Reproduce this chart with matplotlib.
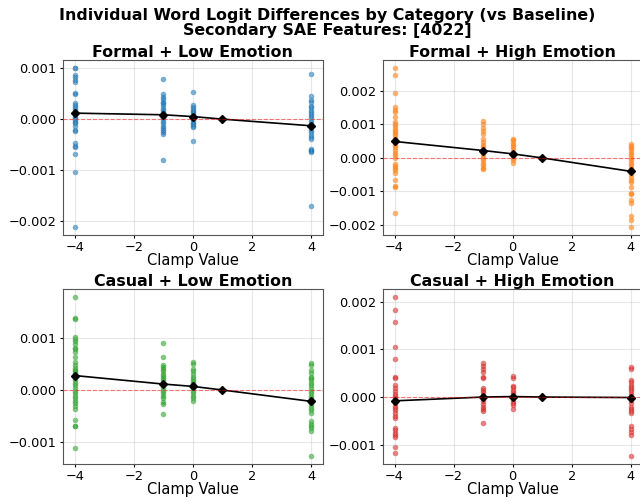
import numpy as np
import matplotlib
matplotlib.use("Agg")
import matplotlib.pyplot as plt

clamp_values = [-4, -1, 0, 1, 4]
scatter_clamps = [-4, -1, 0, 4]

titles = ["Formal + Low Emotion", "Formal + High Emotion",
          "Casual + Low Emotion", "Casual + High Emotion"]
colors = ["#1f77b4", "#ff7f0e", "#2ca02c", "#d62728"]

# per-word logit differences (x1e-3), one list per clamp value
formal_low = {
    -4: [0.995, 0.99, 0.87, 0.82, 0.77, 0.72, 0.52, 0.49, 0.31, 0.28, 0.23, 0.20, 0.15, 0.12,
         0.08, 0.05, 0.02, -0.01, -0.05, -0.08, -0.13, -0.22, -0.24, -0.47, -0.52, -0.55,
         -0.68, -1.03, -2.11],
    -1: [0.79, 0.49, 0.44, 0.40, 0.34, 0.31, 0.27, 0.21, 0.17, 0.13, 0.08, 0.05, 0.02, -0.03,
         -0.08, -0.13, -0.18, -0.22, -0.26, -0.30, -0.79],
    0: [0.53, 0.27, 0.23, 0.20, 0.16, 0.13, 0.10, 0.07, 0.03, 0.0, -0.03, -0.07, -0.10, -0.13,
        -0.16, -0.42],
    4: [0.88, 0.46, 0.38, 0.33, 0.26, 0.23, 0.18, 0.14, 0.10, 0.07, 0.02, -0.03, -0.07, -0.11,
        -0.16, -0.21, -0.26, -0.31, -0.35, -0.39, -0.58, -0.60, -0.63, -0.65, -1.69],
}
formal_high = {
    -4: [2.67, 2.47, 1.92, 1.51, 1.44, 1.38, 1.21, 1.06, 1.00, 0.94, 0.87, 0.80, 0.74, 0.67,
         0.60, 0.52, 0.44, 0.37, 0.31, 0.23, 0.15, 0.08, 0.01, -0.17, -0.24, -0.30, -0.36,
         -0.44, -0.66, -0.84, -0.88, -1.63],
    -1: [1.11, 1.01, 0.90, 0.80, 0.70, 0.57, 0.47, 0.37, 0.31, 0.23, 0.15, 0.08, 0.01, -0.07,
         -0.15, -0.22, -0.29, -0.33],
    0: [0.57, 0.52, 0.45, 0.37, 0.31, 0.23, 0.15, 0.08, 0.01, -0.07, -0.14],
    4: [0.42, 0.35, 0.30, 0.23, 0.16, 0.08, 0.01, -0.07, -0.15, -0.22, -0.29, -0.34, -0.41,
        -0.48, -0.56, -0.66, -0.73, -0.88, -1.03, -1.08, -1.25, -1.33, -1.74, -1.86, -2.06],
}
casual_low = {
    -4: [1.80, 1.40, 1.38, 1.03, 0.99, 0.95, 0.89, 0.82, 0.79, 0.74, 0.63, 0.55, 0.49, 0.42,
         0.39, 0.36, 0.33, 0.29, 0.26, 0.23, 0.19, 0.13, 0.09, 0.04, -0.01, -0.06, -0.11,
         -0.15, -0.22, -0.26, -0.31, -0.37, -0.58, -0.69, -0.70, -1.13],
    -1: [0.92, 0.63, 0.49, 0.44, 0.40, 0.36, 0.31, 0.28, 0.23, 0.19, 0.13, 0.09, 0.04, -0.01,
         -0.06, -0.11, -0.15, -0.24, -0.28, -0.47],
    0: [0.54, 0.50, 0.41, 0.36, 0.31, 0.26, 0.22, 0.18, 0.13, 0.09, 0.04, -0.01, -0.06, -0.11,
        -0.15, -0.22],
    4: [0.53, 0.49, 0.39, 0.33, 0.26, 0.23, 0.19, 0.13, 0.09, 0.04, -0.01, -0.06, -0.11, -0.15,
        -0.21, -0.25, -0.30, -0.35, -0.39, -0.44, -0.60, -0.65, -0.70, -0.74, -0.79, -1.28],
}
casual_high = {
    -4: [2.10, 1.84, 1.58, 1.06, 0.80, 0.42, 0.40, 0.26, 0.19, 0.12, 0.07, 0.03, -0.02, -0.07,
         -0.13, -0.18, -0.23, -0.28, -0.33, -0.40, -0.44, -0.65, -0.70, -0.75, -0.80, -0.84,
         -1.05, -1.18],
    -1: [0.72, 0.66, 0.59, 0.52, 0.42, 0.40, 0.19, 0.14, 0.10, 0.05, 0.0, -0.04, -0.09, -0.14,
         -0.20, -0.25, -0.30, -0.54],
    0: [0.45, 0.40, 0.24, 0.21, 0.15, 0.10, 0.06, 0.01, -0.03, -0.08, -0.13, -0.17, -0.25],
    4: [0.64, 0.59, 0.36, 0.31, 0.26, 0.21, 0.17, 0.12, 0.07, 0.03, -0.02, -0.07, -0.13, -0.20,
        -0.25, -0.30, -0.33, -0.61, -0.67, -0.74, -0.80, -1.24],
}
all_data = [formal_low, formal_high, casual_low, casual_high]

# mean difference per clamp value (x1e-3), baseline at clamp 1
means = [
    [0.117, 0.085, 0.05, 0.0, -0.13],
    [0.49, 0.22, 0.12, 0.0, -0.40],
    [0.28, 0.115, 0.07, 0.0, -0.22],
    [-0.08, 0.0, 0.01, 0.0, -0.01],
]

fig = plt.figure(figsize=(6.4, 4.98), dpi=100)
positions = [
    [0.0984, 0.528, 0.406, 0.351],
    [0.598, 0.528, 0.406, 0.351],
    [0.0984, 0.0683, 0.406, 0.351],
    [0.598, 0.0683, 0.406, 0.351],
]

for i in range(4):
    ax = fig.add_axes(positions[i])
    data = all_data[i]
    for c in scatter_clamps:
        vals = np.array(data[c]) * 1e-3
        ax.scatter([c] * len(vals), vals, color=colors[i], alpha=0.6, s=16, linewidths=0)
    ax.plot(clamp_values, np.array(means[i]) * 1e-3, color="black", marker="D",
            markersize=4, linewidth=1.2)
    ax.axhline(0, color="red", linestyle="--", linewidth=0.8, alpha=0.5)
    ax.set_title(titles[i], fontsize=11.4, fontweight="bold", pad=1.5)
    ax.set_xlabel("Clamp Value", fontsize=10.5, labelpad=-1)
    ax.tick_params(labelsize=9.3, length=2.5, pad=2)
    ax.grid(True, alpha=0.3)
    ax.set_xlim(-4.4, 4.4)
    for sp in ax.spines.values():
        sp.set_color("#555555")

fig.suptitle("Individual Word Logit Differences by Category (vs Baseline)\n"
             "Secondary SAE Features: [4022]", fontsize=11.4, fontweight="bold",
             x=0.512, y=0.983, linespacing=0.95)

fig.savefig("out.png", dpi=100)
